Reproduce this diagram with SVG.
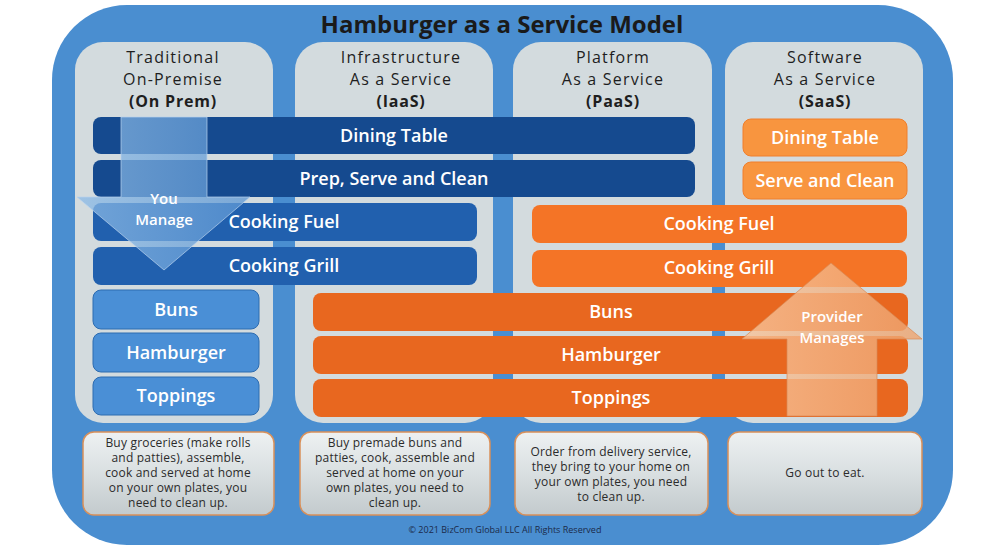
<svg xmlns="http://www.w3.org/2000/svg" width="1000" height="550" viewBox="0 0 1000 550">
<defs>
<linearGradient id="descG" x1="0" y1="0" x2="0" y2="1">
<stop offset="0" stop-color="#eef1f2"/>
<stop offset="0.5" stop-color="#d9dfe1"/>
<stop offset="1" stop-color="#c3cacd"/>
</linearGradient>
<linearGradient id="youG" x1="0" y1="0" x2="1" y2="0">
<stop offset="0" stop-color="#8dbbe6" stop-opacity="0.75"/>
<stop offset="1" stop-color="#5d97d4" stop-opacity="0.75"/>
</linearGradient>
<linearGradient id="provG" x1="0" y1="0" x2="1" y2="0">
<stop offset="0" stop-color="#f8c49a" stop-opacity="0.8"/>
<stop offset="1" stop-color="#eea36e" stop-opacity="0.8"/>
</linearGradient>
</defs>
<style>
.panel{fill:#d3dbde}
.hdr{font-family:"Open Sans","Liberation Sans",sans-serif;font-size:16px;letter-spacing:1.2px;fill:#1e1e1e;text-anchor:middle}
.hdrb{font-weight:bold;letter-spacing:0.8px}
.bar{font-family:"Open Sans","Liberation Sans",sans-serif;font-size:18px;font-weight:600;fill:#ffffff;text-anchor:middle}
.navy{fill:#154a8f}
.mid{fill:#2160ae}
.lblue{fill:#4a8fd6;stroke:#2d6cb0;stroke-width:1}
.orL{fill:#f8953f;stroke:#f07f2c;stroke-width:1}
.orM{fill:#f47426}
.orD{fill:#e8671f}
.desc{fill:url(#descG);stroke:#d9905a;stroke-width:1.5}
.dtx{font-family:"Open Sans","Liberation Sans",sans-serif;font-size:12px;letter-spacing:0.2px;fill:#2b2b2b;text-anchor:middle}
.arrtx{font-family:"Open Sans","Liberation Sans",sans-serif;font-size:15px;font-weight:600;fill:#ffffff;text-anchor:middle}
</style>
<rect x="0" y="0" width="1000" height="550" fill="#ffffff"/>
<rect x="52" y="5" width="901" height="540" rx="75" ry="75" fill="#4a8ed0"/>
<text x="502" y="33" font-family="'Open Sans','Liberation Sans',sans-serif" font-size="24" font-weight="bold" fill="#1a1a1a" text-anchor="middle">Hamburger as a Service Model</text>

<g id="col-onprem">
<rect class="panel" x="75" y="42" width="198" height="381" rx="28"/>
<text class="hdr" x="173" y="63">Traditional</text>
<text class="hdr" x="173" y="85">On-Premise</text>
<text class="hdr hdrb" x="173" y="107">(On Prem)</text>
</g>
<g id="col-iaas">
<rect class="panel" x="295" y="42" width="198" height="381" rx="28"/>
<text class="hdr" x="401" y="63">Infrastructure</text>
<text class="hdr" x="401" y="85">As a Service</text>
<text class="hdr hdrb" x="401" y="107">(IaaS)</text>
</g>
<g id="col-paas">
<rect class="panel" x="513" y="42" width="199" height="381" rx="28"/>
<text class="hdr" x="613" y="63">Platform</text>
<text class="hdr" x="613" y="85">As a Service</text>
<text class="hdr hdrb" x="613" y="107">(PaaS)</text>
</g>
<g id="col-saas">
<rect class="panel" x="725" y="42" width="198" height="381" rx="28"/>
<text class="hdr" x="825" y="63">Software</text>
<text class="hdr" x="825" y="85">As a Service</text>
<text class="hdr hdrb" x="825" y="107">(SaaS)</text>
</g>

<g id="bar-dining">
<rect class="navy" x="93" y="117" width="602" height="37" rx="8"/>
<text class="bar" x="394" y="142">Dining Table</text>
</g>
<g id="bar-prep">
<rect class="navy" x="93" y="160" width="602" height="37" rx="8"/>
<text class="bar" x="394" y="185">Prep, Serve and Clean</text>
</g>
<g id="bar-fuel-you">
<rect class="mid" x="93" y="203" width="384" height="38" rx="8"/>
<text class="bar" x="284" y="228">Cooking Fuel</text>
</g>
<g id="bar-grill-you">
<rect class="mid" x="93" y="247" width="384" height="38" rx="8"/>
<text class="bar" x="284" y="272">Cooking Grill</text>
</g>
<g id="bar-buns-you">
<rect class="lblue" x="93" y="290" width="166" height="39" rx="8"/>
<text class="bar" x="176" y="316">Buns</text>
</g>
<g id="bar-ham-you">
<rect class="lblue" x="93" y="333" width="166" height="39" rx="8"/>
<text class="bar" x="176" y="359">Hamburger</text>
</g>
<g id="bar-top-you">
<rect class="lblue" x="93" y="377" width="166" height="38" rx="8"/>
<text class="bar" x="176" y="402">Toppings</text>
</g>

<g id="bar-dining-prov">
<rect class="orL" x="743" y="119" width="164" height="37" rx="8"/>
<text class="bar" x="825" y="144">Dining Table</text>
</g>
<g id="bar-serve-prov">
<rect class="orL" x="743" y="162" width="164" height="37" rx="8"/>
<text class="bar" x="825" y="187">Serve and Clean</text>
</g>
<g id="bar-fuel-prov">
<rect class="orM" x="532" y="205" width="375" height="38" rx="8"/>
<text class="bar" x="719" y="230">Cooking Fuel</text>
</g>
<g id="bar-grill-prov">
<rect class="orM" x="532" y="250" width="375" height="37" rx="8"/>
<text class="bar" x="719" y="274">Cooking Grill</text>
</g>
<g id="bar-buns-prov">
<rect class="orD" x="313" y="293" width="595" height="38" rx="8"/>
<text class="bar" x="611" y="318">Buns</text>
</g>
<g id="bar-ham-prov">
<rect class="orD" x="313" y="336" width="595" height="38" rx="8"/>
<text class="bar" x="611" y="361">Hamburger</text>
</g>
<g id="bar-top-prov">
<rect class="orD" x="313" y="379" width="595" height="38" rx="8"/>
<text class="bar" x="611" y="404">Toppings</text>
</g>

<g id="arrow-you-manage">
<path d="M121,117 H207 V197 H250 L164,270 L77,197 H121 Z" fill="url(#youG)" stroke="#b9d3ee" stroke-opacity="0.7" stroke-width="1"/>
<text class="arrtx" x="164" y="204">You</text>
<text class="arrtx" x="164" y="225">Manage</text>
</g>
<g id="arrow-provider-manages">
<path d="M831,263 L922,339 H877 V416 H787 V339 H742 Z" fill="url(#provG)" stroke="#d98a55" stroke-opacity="0.7" stroke-width="1"/>
<text class="arrtx" x="832" y="322">Provider</text>
<text class="arrtx" x="832" y="343">Manages</text>
</g>

<g id="desc-onprem">
<rect class="desc" x="83" y="432" width="191" height="83" rx="11"/>
<text class="dtx" x="178" y="447">Buy groceries (make rolls</text>
<text class="dtx" x="178" y="462">and patties), assemble,</text>
<text class="dtx" x="178" y="477">cook and served at home</text>
<text class="dtx" x="178" y="492">on your own plates, you</text>
<text class="dtx" x="178" y="507">need to clean up.</text>
</g>
<g id="desc-iaas">
<rect class="desc" x="300" y="432" width="190" height="83" rx="11"/>
<text class="dtx" x="395" y="447">Buy premade buns and</text>
<text class="dtx" x="395" y="462">patties, cook, assemble and</text>
<text class="dtx" x="395" y="477">served at home on your</text>
<text class="dtx" x="395" y="492">own plates, you need to</text>
<text class="dtx" x="395" y="507">clean up.</text>
</g>
<g id="desc-paas">
<rect class="desc" x="515" y="432" width="193" height="83" rx="11"/>
<text class="dtx" x="611" y="456">Order from delivery service,</text>
<text class="dtx" x="611" y="471">they bring to your home on</text>
<text class="dtx" x="611" y="486">your own plates, you need</text>
<text class="dtx" x="611" y="501">to clean up.</text>
</g>
<g id="desc-saas">
<rect class="desc" x="728" y="432" width="194" height="83" rx="11"/>
<text class="dtx" x="825" y="477">Go out to eat.</text>
</g>

<text x="505" y="533" font-family="'Open Sans','Liberation Sans',sans-serif" font-size="9" fill="#1b2a4a" text-anchor="middle">© 2021 BizCom Global LLC All Rights Reserved</text>
<g id="connectors"></g>
</svg>
